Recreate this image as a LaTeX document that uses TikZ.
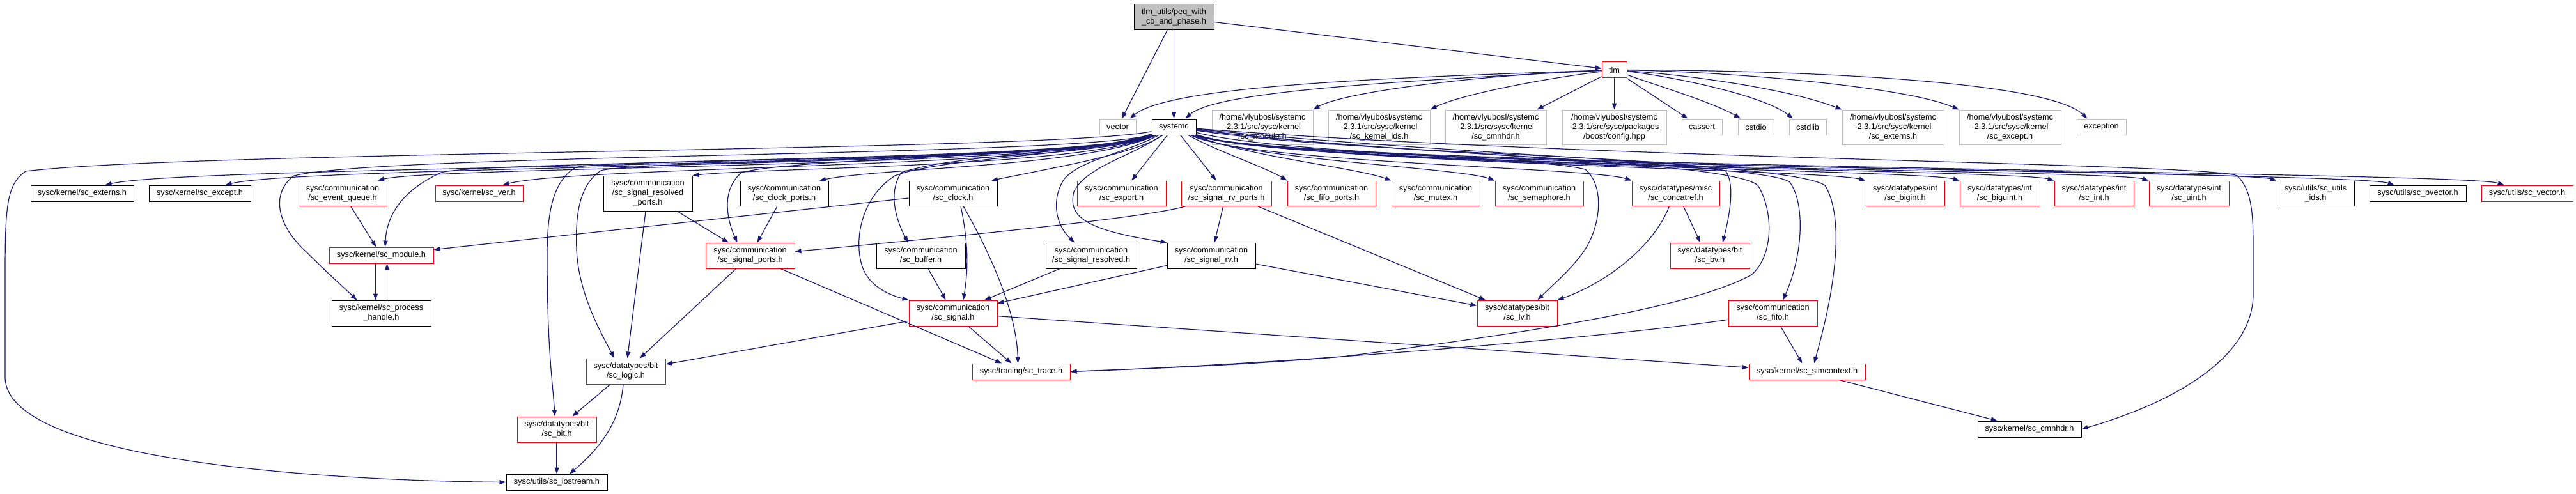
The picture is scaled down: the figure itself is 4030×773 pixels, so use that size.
\documentclass[tikz,border=0pt]{standalone}
\usepackage{fontspec}
\setmainfont{Liberation Sans}
\usetikzlibrary{arrows.meta}
\definecolor{edgeblue}{HTML}{191970}
\definecolor{nodegray}{HTML}{BFBFBF}
\definecolor{nodered}{HTML}{FF0000}
\begin{document}
\begin{tikzpicture}[x=1pt,y=-1pt,
  base/.style={rectangle,draw,line width=1pt,inner sep=0pt,align=center,font=\fontsize{12.7}{15}\selectfont},
  blknode/.style={base,draw=black},
  rednode/.style={base,draw=nodered},
  graynode/.style={base,draw=nodegray},
  topnode/.style={base,draw=black,fill=nodegray},
  sz/.style 2 args={minimum width=#1,minimum height=#2},
  dep/.style={draw=edgeblue,line width=1.2pt,-{Triangle[length=10pt,width=7pt]}}
]
\useasboundingbox (0,0) rectangle (4030,773);
% ---------- nodes ----------
\node[topnode,sz={125pt}{40pt}] (top) at (1836.5,27) {tlm\_utils/peq\_with\\\_cb\_and\_phase.h};
\node[rednode,sz={39pt}{25pt}] (tlm) at (2525.5,109.5) {tlm};
\node[graynode,sz={57pt}{25pt}] (vector) at (1748.5,198.5) {vector};
\node[blknode,sz={69pt}{25pt}] (systemc) at (1836.5,198.5) {systemc};
\node[graynode,sz={158pt}{54pt}] (hmodule) at (1975,199) {/home/vlyubosl/systemc\\-2.3.1/src/sysc/kernel\\/sc\_module.h};
\node[graynode,sz={159pt}{54pt}] (hkids) at (2157.5,199) {/home/vlyubosl/systemc\\-2.3.1/src/sysc/kernel\\/sc\_kernel\_ids.h};
\node[graynode,sz={158pt}{54pt}] (hcmn) at (2340,199) {/home/vlyubosl/systemc\\-2.3.1/src/sysc/kernel\\/sc\_cmnhdr.h};
\node[graynode,sz={163pt}{54pt}] (boost) at (2525.5,199) {/home/vlyubosl/systemc\\-2.3.1/src/sysc/packages\\/boost/config.hpp};
\node[graynode,sz={63pt}{25pt}] (cassert) at (2662.5,198.5) {cassert};
\node[graynode,sz={56pt}{25pt}] (cstdio) at (2747,198.5) {cstdio};
\node[graynode,sz={58pt}{25pt}] (cstdlib) at (2828,198.5) {cstdlib};
\node[graynode,sz={159pt}{54pt}] (hext) at (2961.5,199) {/home/vlyubosl/systemc\\-2.3.1/src/sysc/kernel\\/sc\_externs.h};
\node[graynode,sz={159pt}{54pt}] (hexc) at (3144.5,199) {/home/vlyubosl/systemc\\-2.3.1/src/sysc/kernel\\/sc\_except.h};
\node[graynode,sz={77pt}{25pt}] (exception) at (3287.5,198.5) {exception};
% row 2
\node[blknode,sz={161pt}{25pt}] (kext) at (128.5,302.5) {sysc/kernel/sc\_externs.h};
\node[blknode,sz={159pt}{25pt}] (kexc) at (312.5,302.5) {sysc/kernel/sc\_except.h};
\node[rednode,sz={138pt}{39pt}] (evq) at (536,302.5) {sysc/communication\\/sc\_event\_queue.h};
\node[rednode,sz={137pt}{25pt}] (ver) at (749.5,302.5) {sysc/kernel/sc\_ver.h};
\node[blknode,sz={139pt}{55pt}] (srp) at (1013.5,302.5) {sysc/communication\\/sc\_signal\_resolved\\\_ports.h};
\node[blknode,sz={138pt}{39pt}] (cp) at (1227,302.5) {sysc/communication\\/sc\_clock\_ports.h};
\node[blknode,sz={138pt}{39pt}] (clock) at (1491,302.5) {sysc/communication\\/sc\_clock.h};
\node[rednode,sz={139pt}{39pt}] (export) at (1754.5,302.5) {sysc/communication\\/sc\_export.h};
\node[rednode,sz={141pt}{39pt}] (srvp) at (1918.5,302.5) {sysc/communication\\/sc\_signal\_rv\_ports.h};
\node[rednode,sz={138pt}{39pt}] (fifop) at (2083,302.5) {sysc/communication\\/sc\_fifo\_ports.h};
\node[rednode,sz={138pt}{39pt}] (mutex) at (2246,302.5) {sysc/communication\\/sc\_mutex.h};
\node[rednode,sz={138pt}{39pt}] (sem) at (2408,302.5) {sysc/communication\\/sc\_semaphore.h};
\node[rednode,sz={137pt}{39pt}] (concat) at (2621.5,302.5) {sysc/datatypes/misc\\/sc\_concatref.h};
\node[rednode,sz={123pt}{39pt}] (bigint) at (2980.5,302.5) {sysc/datatypes/int\\/sc\_bigint.h};
\node[rednode,sz={125pt}{39pt}] (biguint) at (3128.5,302.5) {sysc/datatypes/int\\/sc\_biguint.h};
\node[rednode,sz={124pt}{39pt}] (int) at (3276,302.5) {sysc/datatypes/int\\/sc\_int.h};
\node[rednode,sz={125pt}{39pt}] (uint) at (3424.5,302.5) {sysc/datatypes/int\\/sc\_uint.h};
\node[blknode,sz={121pt}{39pt}] (uids) at (3622.5,302.5) {sysc/utils/sc\_utils\\\_ids.h};
\node[blknode,sz={151pt}{25pt}] (pvec) at (3782.5,302.5) {sysc/utils/sc\_pvector.h};
\node[rednode,sz={143pt}{25pt}] (vec) at (3953.5,302.5) {sysc/utils/sc\_vector.h};
% row 3
\node[rednode,sz={163pt}{25pt}] (module) at (596.5,399.5) {sysc/kernel/sc\_module.h};
\node[rednode,sz={139pt}{40pt}] (sp) at (1173.5,400) {sysc/communication\\/sc\_signal\_ports.h};
\node[blknode,sz={139pt}{40pt}] (buffer) at (1440.5,400) {sysc/communication\\/sc\_buffer.h};
\node[blknode,sz={142pt}{40pt}] (sres) at (1707,400) {sysc/communication\\/sc\_signal\_resolved.h};
\node[blknode,sz={138pt}{40pt}] (srv) at (1895,400) {sysc/communication\\/sc\_signal\_rv.h};
\node[rednode,sz={124pt}{40pt}] (bv) at (2675,400) {sysc/datatypes/bit\\/sc\_bv.h};
% row 4
\node[blknode,sz={155pt}{40pt}] (ph) at (596.5,490) {sysc/kernel/sc\_process\\\_handle.h};
\node[rednode,sz={138pt}{40pt}] (signal) at (1491,490) {sysc/communication\\/sc\_signal.h};
\node[rednode,sz={125pt}{40pt}] (lv) at (2373.5,490) {sysc/datatypes/bit\\/sc\_lv.h};
\node[rednode,sz={139pt}{40pt}] (fifo) at (2773.5,490) {sysc/communication\\/sc\_fifo.h};
% row 5+
\node[rednode,sz={124pt}{40pt}] (logic) at (979,581) {sysc/datatypes/bit\\/sc\_logic.h};
\node[rednode,sz={153pt}{25pt}] (trace) at (1597.5,581.5) {sysc/tracing/sc\_trace.h};
\node[rednode,sz={182pt}{25pt}] (simctx) at (2827,581.5) {sysc/kernel/sc\_simcontext.h};
\node[rednode,sz={124pt}{40pt}] (bit) at (871,672) {sysc/datatypes/bit\\/sc\_bit.h};
\node[blknode,sz={162pt}{25pt}] (kcmn) at (3175,671.5) {sysc/kernel/sc\_cmnhdr.h};
\node[blknode,sz={158pt}{25pt}] (iostream) at (871,754.5) {sysc/utils/sc\_iostream.h};

% ---------- edges from top ----------
\draw[dep] (top) -- (vector);
\draw[dep] (top) -- (systemc);
\draw[dep] (top) -- (tlm);
% ---------- edges from tlm ----------
\draw[dep] (tlm) .. controls (2150,122) and (1830,135) .. ([xshift=-10pt]vector.north east);
\draw[dep] (tlm) .. controls (2150,128) and (1900,145) .. ([xshift=18pt]systemc.north);
\draw[dep] (tlm) .. controls (2300,118) and (2100,145) .. (hmodule.north east);
\draw[dep] (tlm) .. controls (2400,125) and (2280,150) .. (hkids.north east);
\draw[dep] (tlm) -- ([xshift=-15pt]hcmn.north east);
\draw[dep] (tlm) -- (boost);
\draw[dep] (tlm) -- ([xshift=-22pt]cassert.north);
\draw[dep] (tlm) .. controls (2580,130) and (2680,160) .. ([xshift=-24pt]cstdio.north);
\draw[dep] (tlm) .. controls (2620,120) and (2760,150) .. ([xshift=-23pt]cstdlib.north);
\draw[dep] (tlm) .. controls (2650,118) and (2800,140) .. (hext.north west);
\draw[dep] (tlm) .. controls (2700,112) and (2980,135) .. (hexc.north west);
\draw[dep] (tlm) .. controls (2800,110) and (3200,125) .. ([xshift=-22pt]exception.north);
% ---------- edges from systemc, leftwards ----------
\draw[dep] (systemc) .. controls (1700,262) and (300,258) .. ([xshift=36pt]kext.north);
\draw[dep] (systemc) .. controls (1700,262) and (480,258) .. ([xshift=40pt]kexc.north);
\draw[dep] (systemc) .. controls (1700,262) and (680,260) .. ([xshift=55pt]evq.north);
\draw[dep] (systemc) .. controls (1700,255) and (760,250) .. (690,270) .. controls (625,300) and (605,340) .. ([xshift=6pt]module.north);
\draw[dep] (systemc) .. controls (1700,245) and (600,240) .. (460,275) .. controls (425,300) and (430,350) .. (480,395) .. controls (510,425) and (540,452) .. ([xshift=-38pt]ph.north);
\draw[dep] (systemc) .. controls (1650,237) and (300,236) .. (40,268) .. controls (8,290) and (8,330) .. (8,450) -- (8,590) .. controls (8,720) and (500,752) .. (iostream.west);
\draw[dep] (systemc) .. controls (1700,262) and (900,260) .. ([xshift=37pt]ver.north);
\draw[dep] (systemc) .. controls (1700,250) and (950,248) .. (900,262) .. controls (865,285) and (856,330) .. (856,400) .. controls (856,550) and (865,600) .. ([xshift=-3pt]bit.north);
\draw[dep] (systemc) .. controls (1700,252) and (1000,250) .. (940,267) .. controls (905,290) and (900,340) .. (902,390) .. controls (905,460) and (940,520) .. ([xshift=-18pt]logic.north);
\draw[dep] (systemc) .. controls (1700,262) and (1200,262) .. (srp.north east);
\draw[dep] (systemc) .. controls (1700,262) and (1380,262) .. ([xshift=55pt]cp.north);
\draw[dep] (systemc) .. controls (1700,246) and (1250,246) .. (1160,270) .. controls (1125,300) and (1140,350) .. ([xshift=-20pt]sp.north);
\draw[dep] (systemc) .. controls (1700,242) and (1500,240) .. (1410,270) .. controls (1390,300) and (1400,340) .. ([xshift=-20pt]buffer.north);
\draw[dep] (systemc) .. controls (1700,245) and (1480,245) .. (1400,275) .. controls (1345,310) and (1335,380) .. (1350,420) .. controls (1360,445) and (1385,460) .. (signal.north west);
\draw[dep] (systemc) .. controls (1780,240) and (1650,262) .. ([xshift=60pt]clock.north);
\draw[dep] (systemc) .. controls (1760,240) and (1690,250) .. (1665,280) .. controls (1645,310) and (1650,350) .. ([xshift=-26pt]sres.north);
\draw[dep] (systemc) .. controls (1770,245) and (1700,260) .. (1680,300) .. controls (1670,340) and (1700,360) .. (srv.north west);
\draw[dep] (systemc) -- (export);
\draw[dep] (systemc) -- (srvp);
% ---------- edges from systemc, rightwards ----------
\draw[dep] (systemc) .. controls (1900,235) and (1980,262) .. (fifop.north west);
\draw[dep] (systemc) .. controls (1950,245) and (2120,262) .. (mutex.north west);
\draw[dep] (systemc) .. controls (1950,250) and (2280,262) .. (sem.north west);
\draw[dep] (systemc) .. controls (1950,255) and (2490,262) .. (concat.north west);
\draw[dep] (systemc) .. controls (2000,240) and (2400,245) .. (2480,265) .. controls (2510,290) and (2505,350) .. (2480,390) .. controls (2460,420) and (2430,445) .. ([xshift=32pt]lv.north);
\draw[dep] (systemc) .. controls (2100,240) and (2650,245) .. (2700,268) .. controls (2715,290) and (2705,340) .. ([xshift=20pt]bv.north);
\draw[dep] (systemc) .. controls (2200,245) and (2700,250) .. (2750,290) .. controls (2775,330) and (2775,400) .. (2740,430) .. controls (2650,480) and (2400,520) .. (2100,558) .. controls (1900,575) and (1750,578) .. (trace.east);
\draw[dep] (systemc) .. controls (2200,245) and (2760,255) .. (2800,285) .. controls (2825,320) and (2820,400) .. ([xshift=16pt]fifo.north);
\draw[dep] (systemc) .. controls (2300,245) and (2800,255) .. (2855,290) .. controls (2880,330) and (2880,420) .. ([xshift=11pt]simctx.north);
\draw[dep] (systemc) .. controls (2000,255) and (2850,265) .. (bigint.north west);
\draw[dep] (systemc) .. controls (2000,258) and (3000,265) .. (biguint.north west);
\draw[dep] (systemc) .. controls (2000,260) and (3150,265) .. (int.north west);
\draw[dep] (systemc) .. controls (2000,262) and (3300,265) .. (uint.north west);
\draw[dep] (systemc) .. controls (2000,262) and (3500,265) .. (uids.north west);
\draw[dep] (systemc) .. controls (2000,262) and (3680,268) .. ([xshift=-37pt]pvec.north);
\draw[dep] (systemc) .. controls (2000,262) and (3850,268) .. ([xshift=-36pt]vec.north);
\draw[dep] (systemc) .. controls (2500,250) and (3450,255) .. (3500,275) .. controls (3525,300) and (3525,340) .. (3525,400) -- (3525,460) .. controls (3525,560) and (3400,630) .. (kcmn.east);
% ---------- other edges ----------
\draw[dep] (evq) -- (module);
\draw[dep] ([xshift=-9pt]module.south) -- ([xshift=-9pt]ph.north);
\draw[dep] ([xshift=9pt]ph.north) -- ([xshift=9pt]module.south);
\draw[dep] (clock) -- (module);
\draw[dep] (srp) -- (sp);
\draw[dep] (srp) -- (logic);
\draw[dep] (cp) -- (sp);
\draw[dep] (srvp) .. controls (1800,340) and (1500,370) .. (sp);
\draw[dep] (srvp) -- (srv);
\draw[dep] (srvp) -- (lv);
\draw[dep] (sp) -- (logic);
\draw[dep] (sp) -- (trace);
\draw[dep] (buffer) -- (signal);
\draw[dep] (sres) -- (signal);
\draw[dep] (srv) -- (signal);
\draw[dep] (srv) -- (lv);
\draw[dep] ([xshift=12pt]clock.south) .. controls (1515,380) and (1515,420) .. ([xshift=16pt]signal.north);
\draw[dep] ([xshift=16pt]clock.south) .. controls (1540,380) and (1590,480) .. ([xshift=-5pt]trace.north);
\draw[dep] (signal) -- (trace);
\draw[dep] (signal) -- (logic);
\draw[dep] (signal) -- (simctx);
\draw[dep] (logic) -- (bit);
\draw[dep] ([xshift=-4pt]logic.south) .. controls (970,660) and (940,700) .. ([xshift=20pt]iostream.north);
\draw[dep] (bit) -- (iostream);
\draw[dep] ([xshift=-10pt]concat.south) .. controls (2590,380) and (2520,440) .. (lv.north east);
\draw[dep] ([xshift=12pt]concat.south) -- ([xshift=-15pt]bv.north);
\draw[dep] (fifo) -- (simctx);
\draw[dep] (fifo) .. controls (2500,530) and (2000,570) .. (trace.east);
\draw[dep] (simctx) -- (kcmn);
\end{tikzpicture}
\end{document}
